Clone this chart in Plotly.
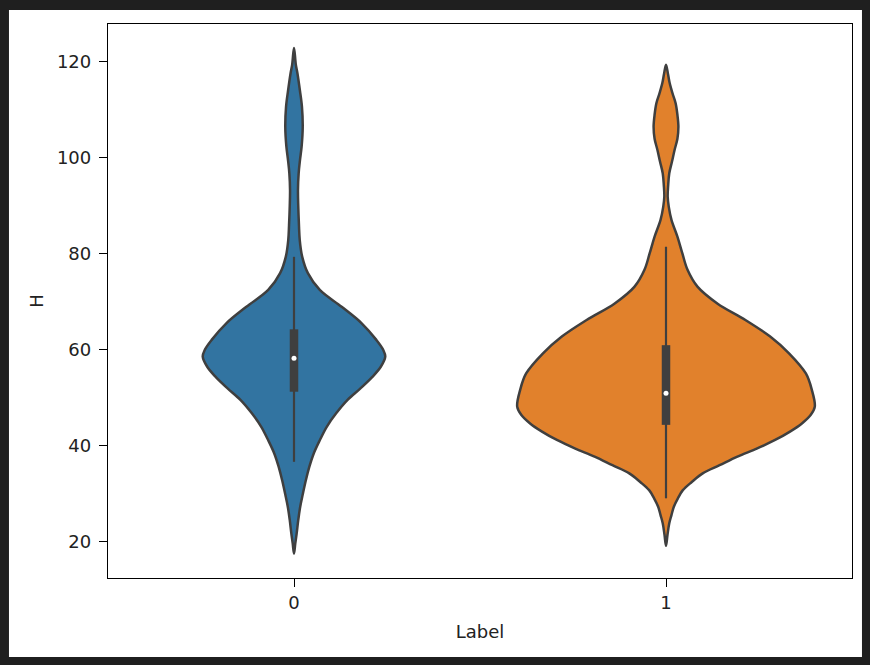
import plotly.graph_objects as go

# ---- data ----
categories = [0, 1]
group_names = ["0", "1"]

# density profile (relative units) along H for each group, read bottom to top
h_levels_0 = [17.6, 19.7, 21.8, 24.6, 27.4, 30.1, 32.9, 35.7, 38.5, 41.2, 44.0, 46.8, 49.6,
              52.0, 54.4, 56.5, 58.6, 60.0, 62.1, 65.6, 69.0, 72.5, 76.0, 79.4, 82.9, 86.0,
              89.9, 93.3, 96.8, 99.5, 102.4, 106.5, 110.7, 114.0, 117.6, 119.5, 122.9]
density_0 = [0.0, 1.3, 2.7, 4.3, 6.3, 9.0, 12.0, 15.5, 20.0, 26.0, 33.0, 42.5, 54.0,
             67.0, 79.0, 87.5, 92.0, 90.0, 83.0, 68.0, 48.0, 26.0, 14.0, 8.3, 5.8, 5.0,
             4.3, 4.0, 4.7, 6.0, 7.7, 8.8, 8.0, 6.0, 3.5, 1.8, 0.0]

h_levels_1 = [19.2, 21.5, 23.9, 25.6, 27.4, 29.1, 30.8, 32.5, 34.3, 36.0, 37.8, 39.5, 41.25,
              43.0, 44.7, 46.5, 48.2, 51.7, 55.1, 59.3, 62.8, 66.25, 69.7, 73.2, 76.7, 80.1,
              83.6, 87.1, 89.8, 91.9, 94.3, 96.8, 99.2, 101.7, 104.0, 106.5, 109.0, 111.4,
              113.5, 115.6, 117.5, 119.4]
density_1 = [0.0, 1.5, 3.3, 5.5, 8.0, 12.0, 17.0, 26.0, 37.0, 54.0, 72.0, 92.0, 110.0,
             125.0, 137.0, 146.0, 150.0, 147.0, 141.0, 124.0, 105.0, 80.0, 51.7, 31.7, 21.7, 16.5,
             11.5, 5.5, 2.8, 1.7, 2.2, 3.3, 6.0, 8.7, 11.5, 12.5, 11.5, 9.7,
             6.5, 3.7, 2.0, 0.0]

# box statistics: [lower whisker, Q1, median, Q3, upper whisker]
stats_0 = [36.7, 51.3, 58.3, 64.3, 79.4]
stats_1 = [29.1, 44.4, 51.0, 61.0, 81.5]

y_ticks = [20, 40, 60, 80, 100, 120]
x_title = "Label"
y_title = "H"

# ---- styles ----
fill_colors = ["#3274a1", "#e1812c"]
edge_color = "#3f3f3f"
MAX_HALF_WIDTH = 0.4
FONT = dict(family="DejaVu Sans", size=18, color="#222222")

levels = [h_levels_0, h_levels_1]
dens = [density_0, density_1]
stats = [stats_0, stats_1]
dmax = max(max(density_0), max(density_1))

fig = go.Figure()

for i, c in enumerate(categories):
    hs = list(levels[i])
    hw = [d / dmax * MAX_HALF_WIDTH for d in dens[i]]
    # up the right side, then down the left side back to the bottom tip
    xs = [c + w for w in hw] + [c - w for w in hw[::-1][1:]]
    ys = hs + hs[::-1][1:]
    fig.add_trace(go.Scatter(
        x=xs, y=ys, mode="lines", fill="toself", fillcolor=fill_colors[i],
        line=dict(color=edge_color, width=2.5, shape="spline", smoothing=1.0),
        hoverinfo="skip", showlegend=False))
    lo, q1, med, q3, hi = stats[i]
    fig.add_trace(go.Scatter(x=[c, c], y=[lo, hi], mode="lines",
                             line=dict(color=edge_color, width=2.2),
                             hoverinfo="skip", showlegend=False))
    fig.add_trace(go.Scatter(x=[c, c], y=[q1, q3], mode="lines",
                             line=dict(color=edge_color, width=8.5),
                             hoverinfo="skip", showlegend=False))
    fig.add_trace(go.Scatter(x=[c], y=[med], mode="markers",
                             marker=dict(color="white", size=5, line=dict(width=0)),
                             hoverinfo="skip", showlegend=False))

# white figure area inside the dark frame
fig.add_shape(type="rect", xref="paper", yref="paper",
              x0=-0.1331, x1=1.0134, y0=-0.1426, y1=1.0253,
              fillcolor="white", line=dict(width=0), layer="below")

fig.update_layout(
    width=870, height=665,
    margin=dict(l=108, r=18, t=24, b=87),
    paper_bgcolor="#1f1f1f", plot_bgcolor="white",
    font=FONT, showlegend=False,
    xaxis=dict(range=[-0.5, 1.5], tickvals=categories, ticktext=group_names,
               showgrid=False, zeroline=False, showline=True, mirror=True,
               linecolor="black", linewidth=1.3, ticks="outside", ticklen=8,
               tickwidth=1.3, tickcolor="black", tickfont=FONT,
               title=dict(text=x_title, font=FONT, standoff=13)),
    yaxis=dict(range=[12.5, 127.9], tickvals=y_ticks,
               showgrid=False, zeroline=False, showline=True, mirror=True,
               linecolor="black", linewidth=1.3, ticks="outside", ticklen=8,
               tickwidth=1.3, tickcolor="black", tickfont=FONT,
               ticklabelstandoff=4,
               title=dict(text=y_title, font=FONT, standoff=8)),
)

fig.write_html("out.html", config={"displayModeBar": False},
               post_script="document.body.style.margin='0';")
